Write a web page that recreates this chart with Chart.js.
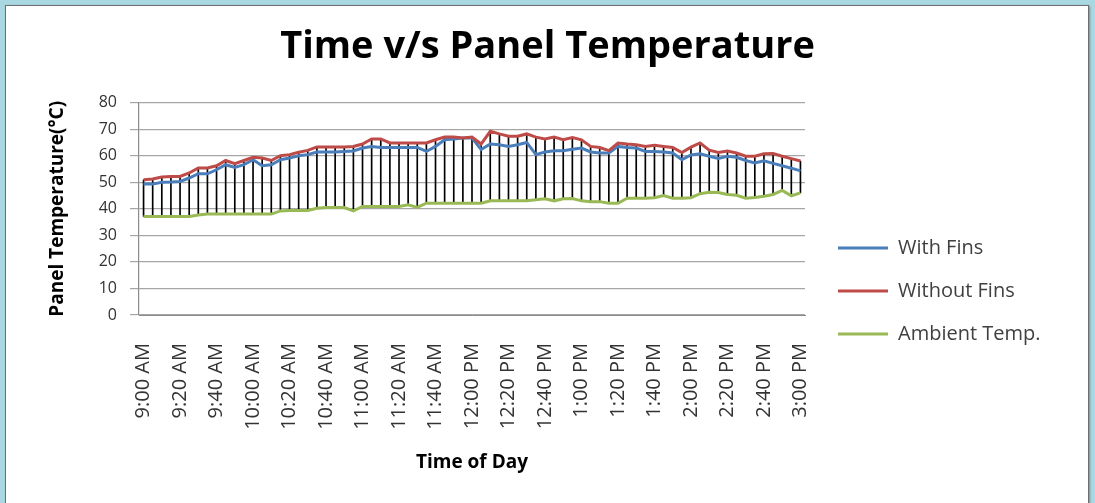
<!DOCTYPE html>
<html>
<head>
<meta charset="utf-8">
<script src="https://cdn.jsdelivr.net/npm/chart.js@4.4.1/dist/chart.umd.min.js"></script>
<style>
  html, body { margin: 0; padding: 0; }
  body { width: 1095px; height: 503px; background: #a9d7e2; position: relative; overflow: hidden; }
  #panel { position: absolute; left: 5px; top: 5px; width: 1082px; height: 520px; background: #ffffff;
           border: 1px solid #6f6f6f; box-shadow: 1px 1px 2px rgba(0,0,0,0.35); }
  #c { position: absolute; left: 0; top: 0; }
</style>
</head>
<body>
<div id="panel"></div>
<canvas id="c" width="1095" height="503"></canvas>
<script>
const timeLabels = [
  "9:00 AM","9:05 AM","9:10 AM","9:15 AM","9:20 AM","9:25 AM","9:30 AM","9:35 AM","9:40 AM","9:45 AM","9:50 AM","9:55 AM",
  "10:00 AM","10:05 AM","10:10 AM","10:15 AM","10:20 AM","10:25 AM","10:30 AM","10:35 AM","10:40 AM","10:45 AM","10:50 AM","10:55 AM",
  "11:00 AM","11:05 AM","11:10 AM","11:15 AM","11:20 AM","11:25 AM","11:30 AM","11:35 AM","11:40 AM","11:45 AM","11:50 AM","11:55 AM",
  "12:00 PM","12:05 PM","12:10 PM","12:15 PM","12:20 PM","12:25 PM","12:30 PM","12:35 PM","12:40 PM","12:45 PM","12:50 PM","12:55 PM",
  "1:00 PM","1:05 PM","1:10 PM","1:15 PM","1:20 PM","1:25 PM","1:30 PM","1:35 PM","1:40 PM","1:45 PM","1:50 PM","1:55 PM",
  "2:00 PM","2:05 PM","2:10 PM","2:15 PM","2:20 PM","2:25 PM","2:30 PM","2:35 PM","2:40 PM","2:45 PM","2:50 PM","2:55 PM",
  "3:00 PM"
];

const withFins = [
  49.3,49.3,50.0,50.1,50.3,51.6,53.2,53.2,54.7,56.6,
  55.6,56.6,58.5,56.2,56.6,58.5,59.1,60.0,60.4,61.4,
  61.4,61.4,61.6,61.8,62.9,63.5,63.1,63.1,63.1,63.1,
  63.1,61.6,63.5,66.0,66.3,66.7,66.7,62.3,64.4,64.1,
  63.5,64.1,65.0,60.4,61.4,61.9,61.9,62.4,62.9,61.4,
  61.0,61.0,63.5,63.1,62.9,61.6,61.6,61.4,61.0,58.5,
  60.3,60.7,59.8,59.0,59.8,59.4,58.2,57.3,58.1,57.1,
  56.2,55.3,54.3
];

const withoutFins = [
  50.9,51.2,52.0,52.2,52.2,53.5,55.4,55.4,56.2,58.2,
  57.0,58.2,59.4,59.1,58.2,60.0,60.4,61.3,62.0,63.3,
  63.3,63.3,63.3,63.5,64.4,66.3,66.3,64.8,64.8,64.8,
  64.8,64.8,66.0,67.0,67.0,66.7,67.0,64.4,69.2,68.2,
  67.3,67.3,68.2,67.0,66.3,67.0,66.0,66.8,66.0,63.5,
  63.1,61.9,64.8,64.4,64.1,63.5,63.9,63.5,63.1,61.2,
  63.2,64.8,62.1,61.2,61.8,61.0,59.8,59.8,60.7,60.8,
  59.8,58.9,58.0
];

const ambientTemp = [
  37.1,37.1,37.1,37.1,37.1,37.1,37.7,38.0,38.0,38.0,
  38.0,38.0,38.0,38.0,38.0,39.2,39.4,39.4,39.4,40.2,
  40.5,40.5,40.5,39.2,40.9,40.9,40.9,40.9,40.9,41.5,
  40.5,42.1,42.1,42.1,42.1,42.1,42.1,42.1,43.0,43.0,
  43.0,43.0,43.0,43.4,43.8,43.0,43.8,43.9,43.0,42.7,
  42.7,42.1,42.1,44.0,44.0,44.0,44.2,45.0,44.0,44.0,
  44.2,45.7,46.2,46.1,45.4,45.1,44.0,44.3,44.7,45.4,
  46.9,44.9,46.0
];

const seriesNames = ["With Fins", "Without Fins", "Ambient Temp."];
const yTicks = [0, 10, 20, 30, 40, 50, 60, 70, 80];

// high-low lines: span between lowest and highest series value at each time
const highLow = timeLabels.map((_, i) => {
  const v = [withFins[i], withoutFins[i], ambientTemp[i]];
  return [Math.min(...v), Math.max(...v)];
});

Chart.defaults.font.family = "'Open Sans', 'Liberation Sans', sans-serif";

const legendTweak = {
  id: 'legendTweak',
  beforeInit(chart) {
    const lg = chart.legend;
    if (!lg) return;
    const origFit = lg.fit.bind(lg);
    lg.fit = function () { origFit(); this.width = 290; };
  },
  afterLayout(chart) {
    if (chart.legend) chart.legend.left += 10;
  }
};

new Chart(document.getElementById('c'), {
  type: 'line',
  data: {
    labels: timeLabels,
    datasets: [
      { type: 'line', label: seriesNames[0], data: withFins, borderColor: '#4a7ebb', backgroundColor: '#4a7ebb',
        borderWidth: 3, pointRadius: 0, tension: 0, order: 1 },
      { type: 'line', label: seriesNames[1], data: withoutFins, borderColor: '#be4b48', backgroundColor: '#be4b48',
        borderWidth: 3, pointRadius: 0, tension: 0, order: 0 },
      { type: 'line', label: seriesNames[2], data: ambientTemp, borderColor: '#98b954', backgroundColor: '#98b954',
        borderWidth: 3, pointRadius: 0, tension: 0, order: 2 },
      { type: 'bar', label: 'High-Low', data: highLow, backgroundColor: '#000000', borderWidth: 0,
        barThickness: 1, grouped: false, order: 10 }
    ]
  },
  options: {
    responsive: false,
    animation: false,
    devicePixelRatio: 1,
    layout: { padding: 0 },
    plugins: {
      title: {
        display: true,
        text: 'Time v/s Panel Temperature',
        color: '#000000',
        font: { size: 38, weight: 'bold', lineHeight: 1.2 },
        padding: { top: 24, bottom: 33 }
      },
      legend: {
        display: true,
        position: 'right',
        align: 'center',
        title: { display: true, text: '', font: { size: 10, lineHeight: 1 }, padding: { top: 69, bottom: 0 } },
        labels: {
          filter: (item) => item.datasetIndex < 3,
          sort: (a, b) => a.datasetIndex - b.datasetIndex,
          usePointStyle: true,
          pointStyle: 'line',
          pointStyleWidth: 50,
          color: '#404040',
          font: { size: 20 },
          padding: 23
        }
      },
      tooltip: { enabled: false }
    },
    scales: {
      x: {
        type: 'category',
        offset: true,
        grid: { display: false },
        border: { display: true, color: '#8c8c8c', width: 1 },
        ticks: {
          autoSkip: false,
          maxRotation: 90,
          minRotation: 90,
          padding: 20,
          color: '#333333',
          font: { size: 20 },
          callback: function (value, index) { return index % 4 === 0 ? this.getLabelForValue(value) : ''; }
        },
        title: {
          display: true,
          text: 'Time of Day',
          color: '#000000',
          font: { size: 19, weight: 'bold', lineHeight: 1.2 },
          padding: { top: 0, bottom: 29 }
        },
        afterFit(scale) { scale.height = 188; }
      },
      y: {
        min: 0,
        max: 80,
        afterBuildTicks(scale) { scale.ticks = yTicks.map(v => ({ value: v })); },
        grid: { color: '#a6a6a6', lineWidth: 1.2, drawTicks: true, tickLength: 9 },
        border: { display: true, color: '#8c8c8c', width: 1.2 },
        ticks: { padding: 13, color: '#333333', font: { size: 16 } },
        title: {
          display: true,
          text: 'Panel Temperature(°C)',
          color: '#000000',
          font: { size: 19, weight: 'bold', lineHeight: 1.2 },
          padding: { top: 46, bottom: 0 }
        },
        afterFit(scale) { scale.width = 139; }
      }
    }
  },
  plugins: [legendTweak]
});
</script>
</body>
</html>
